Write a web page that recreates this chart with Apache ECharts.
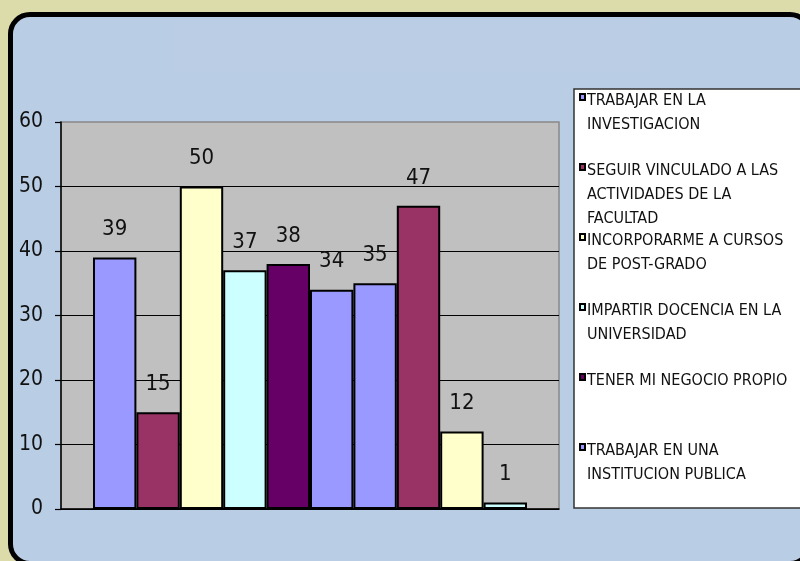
<!DOCTYPE html>
<html>
<head>
<meta charset="utf-8">
<script src="https://cdn.jsdelivr.net/npm/echarts@6/dist/echarts.min.js"></script>
<style>
  html, body { margin: 0; padding: 0; width: 800px; height: 561px; overflow: hidden; background: #dcdcaa; }
  #panel {
    position: absolute; left: 8px; top: 12px; width: 804px; height: 554px;
    box-sizing: border-box; border: 5px solid #000; border-radius: 22px; background: #b9cde5;
  }
  #chart { position: absolute; left: 0; top: 0; width: 800px; height: 561px; }
</style>
</head>
<body>
<div id="panel"></div>
<div id="chart"></div>
<script>
// Survey answers: one bar per answer, all in a single group
const values = [39, 15, 50, 37, 38, 34, 35, 47, 12, 1];
const barColors = ['#9999ff', '#993366', '#ffffcc', '#ccffff', '#660066',
                   '#9999ff', '#9999ff', '#993366', '#ffffcc', '#ccffff'];

// Legend entries shown in the key box
const legendNames = [
  'TRABAJAR EN LA\nINVESTIGACION',
  'SEGUIR VINCULADO A LAS\nACTIVIDADES DE LA\nFACULTAD',
  'INCORPORARME A CURSOS\nDE POST-GRADO',
  'IMPARTIR DOCENCIA EN LA\nUNIVERSIDAD',
  'TENER MI NEGOCIO PROPIO',
  'TRABAJAR EN UNA\nINSTITUCION PUBLICA'
];
const legendColors = ['#9999ff', '#993366', '#ffffcc', '#ccffff', '#660066', '#9999ff'];

// Value axis ticks
const yMin = 0, yMax = 60, yStep = 10;

const FONT = "'Liberation Sans Narrow', 'DejaVu Sans Condensed', 'Liberation Sans', Arial, sans-serif";

const chart = echarts.init(document.getElementById('chart'), null, { renderer: 'canvas' });

const series = values.map((v, i) => ({
  type: 'bar',
  name: i < legendNames.length ? legendNames[i].replace(/\n/g, ' ') : undefined,
  data: [v],
  barGap: '0%',
  barCategoryGap: '12.85%',
  itemStyle: { color: barColors[i], borderColor: '#000', borderWidth: 2 },
  label: {
    show: true, position: 'top', distance: 17,
    fontFamily: FONT, fontSize: 22, color: '#111'
  },
  emphasis: { disabled: true },
  z: 3
}));

// Key box drawn as graphic elements
const legendGraphics = [{
  type: 'rect',
  shape: { x: 574, y: 89, width: 240, height: 419 },
  style: { fill: '#fff', stroke: '#333', lineWidth: 1.5 },
  z: 10
}];
legendNames.forEach((name, i) => {
  legendGraphics.push({
    type: 'rect',
    shape: { x: 580, y: 94 + i * 70, width: 5, height: 6 },
    style: { fill: legendColors[i], stroke: '#000', lineWidth: 2 },
    z: 11
  });
  legendGraphics.push({
    type: 'text',
    x: 587, y: 89 + i * 70,
    style: {
      text: name, fill: '#111', font: '16px ' + FONT,
      lineHeight: 24, verticalAlign: 'top', align: 'left'
    },
    z: 11
  });
});

chart.setOption({
  animation: false,
  backgroundColor: 'transparent',
  grid: {
    left: 61, right: 241, top: 122, bottom: 52,
    show: true, backgroundColor: '#c0c0c0', borderColor: '#888', borderWidth: 1.5
  },
  xAxis: {
    type: 'category',
    data: [''],
    axisLine: { show: true, lineStyle: { color: '#000', width: 1.5 } },
    axisTick: { show: false },
    axisLabel: { show: false },
    splitLine: { show: false }
  },
  yAxis: {
    type: 'value',
    min: yMin, max: yMax, interval: yStep,
    axisLine: { show: true, lineStyle: { color: '#000', width: 1.5 } },
    axisTick: { show: true, length: 6, lineStyle: { color: '#000', width: 1.2 } },
    axisLabel: { fontFamily: FONT, fontSize: 21, color: '#111', margin: 18 },
    splitLine: { show: true, showMaxLine: false, lineStyle: { color: '#000', width: 1 } }
  },
  series: series,
  graphic: [{
    type: 'rect',
    shape: { x: 173, y: 17, width: 479, height: 55 },
    style: { fill: 'rgba(255,255,255,0.015)' },
    z: 0
  }].concat(legendGraphics)
});
</script>
</body>
</html>
